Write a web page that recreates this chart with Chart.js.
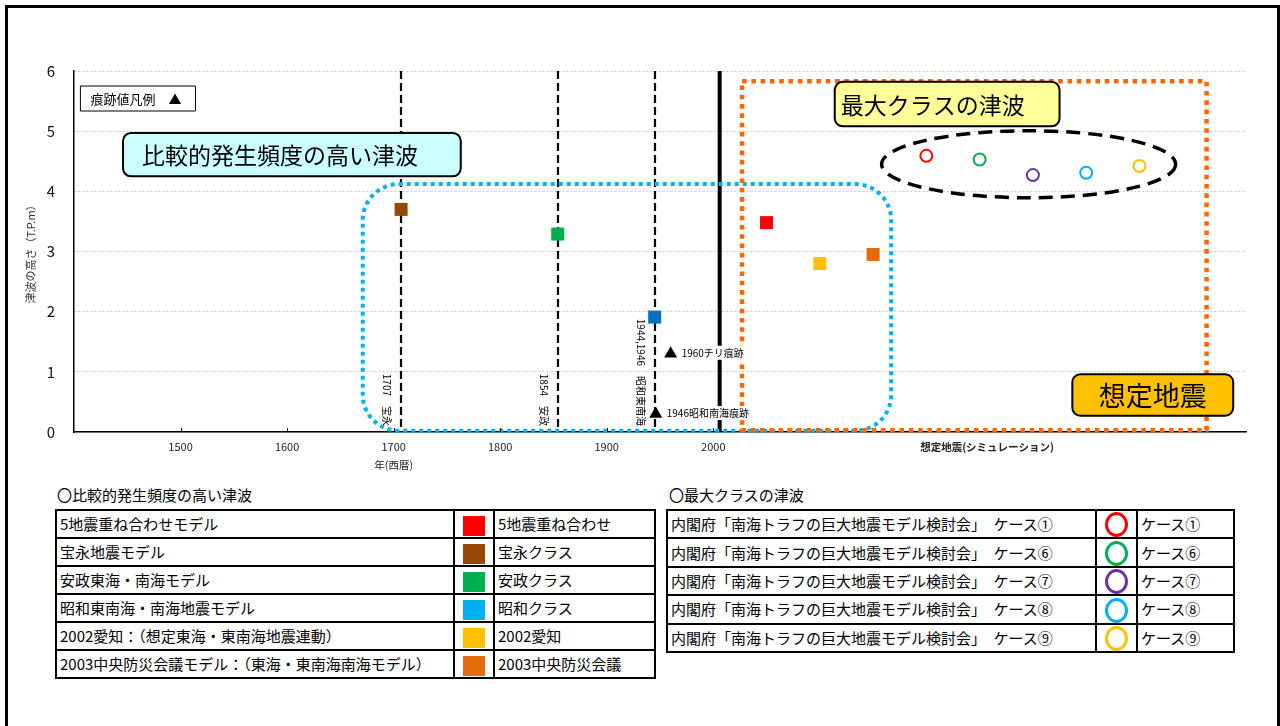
<!DOCTYPE html>
<html lang="ja">
<head>
<meta charset="utf-8">
<title>津波の高さ</title>
<script src="https://cdn.jsdelivr.net/npm/chart.js@4.4.0/dist/chart.umd.min.js"></script>
<style>
  body { margin:0; width:1280px; height:726px; overflow:hidden; background:#fff; position:relative;
         font-family:'Noto Sans CJK JP', 'Noto Sans', sans-serif; color:#000; }
  #frame { position:absolute; left:5px; top:5px; width:1269px; height:780px; border:3px solid #000; }
  #wrap { position:absolute; left:0; top:0; width:1280px; height:480px; }
  .cap { position:absolute; top:485px; font-size:15px; line-height:20px; }
  table { position:absolute; top:509px; border-collapse:collapse; table-layout:fixed; font-size:15px; }
  td { border:2px solid #000; height:26px; padding:0 0 0 3px; white-space:nowrap; overflow:hidden; line-height:24px; }
  td.sw { text-align:center; padding:0; }
  .sq { display:inline-block; width:22px; height:20px; vertical-align:middle; }
  .ring { display:inline-block; width:17px; height:19px; border:3px solid; border-radius:50%; vertical-align:middle; }
</style>
</head>
<body>
<div id="frame"></div>
<div id="wrap"><canvas id="chart" width="1280" height="480"></canvas></div>

<div class="cap" style="left:57px;">〇比較的発生頻度の高い津波</div>
<table id="tblFreq" style="left:55px; width:599px;">
  <colgroup><col style="width:398px"><col style="width:40px"><col style="width:161px"></colgroup>
  <tbody></tbody>
</table>

<div class="cap" style="left:669px;">〇最大クラスの津波</div>
<table id="tblMax" style="left:666px; width:567px;">
  <colgroup><col style="width:429px"><col style="width:41px"><col style="width:97px"></colgroup>
  <tbody></tbody>
</table>

<script>
// 比較的発生頻度の高い津波 (squares)
var freqModels = ['5地震重ね合わせモデル', '宝永地震モデル', '安政東海・南海モデル', '昭和東南海・南海地震モデル',
  '2002愛知：（想定東海・東南海地震連動）', '2003中央防災会議モデル：（東海・東南海南海モデル）'];
var freqNames = ['5地震重ね合わせ', '宝永クラス', '安政クラス', '昭和クラス', '2002愛知', '2003中央防災会議'];
var freqYears = [2050, 1707, 1854, 1945, 2100, 2150];
var freqHeights = [3.48, 3.70, 3.29, 1.91, 2.80, 2.95];
var freqColors = ['#FF0000', '#974706', '#00B050', '#0070C0', '#FFC000', '#E46C0A'];
var freqLegendColors = ['#FF0000', '#974706', '#00B050', '#00B0F0', '#FFC000', '#E46C0A'];

// 最大クラスの津波 (circles)
var maxModels = ['ケース①', 'ケース⑥', 'ケース⑦', 'ケース⑧', 'ケース⑨'];
var maxYears = [2200, 2250, 2300, 2350, 2400];
var maxHeights = [4.59, 4.53, 4.27, 4.31, 4.42];
var maxColors = ['#FF0000', '#00B050', '#7030A0', '#00B0F0', '#FFC000'];

// 痕跡値 (triangles)
var traceNames = ['1960チリ痕跡', '1946昭和南海痕跡'];
var traceYears = [1960, 1946];
var traceHeights = [1.3, 0.3];

// historical events
var eventYears = [1707, 1854, 1945];
var eventLabels = ['1707　宝永', '1854　安政', '1944,1946　昭和東南海'];
var presentYear = 2006;

var yearTicks = [1500, 1600, 1700, 1800, 1900, 2000];

// annotation boxes, in data units
var notes = [
  {text: '痕跡値凡例　▲', x0: 1406, x1: 1514, y0: 5.335, y1: 5.75, fill: '#FFFFFF', lw: 1, r: 0, size: 13, pad: 10, align: 'left'},
  {text: '比較的発生頻度の高い津波', x0: 1446, x1: 1763, y0: 4.25, y1: 4.97, fill: '#CCFFFF', lw: 2, r: 8, size: 23, pad: 19, align: 'left'},
  {text: '最大クラスの津波', x0: 2114, x1: 2325, y0: 5.08, y1: 5.82, fill: '#FFFF99', lw: 2, r: 8, size: 23, pad: 6, align: 'left'},
  {text: '想定地震', x0: 2337, x1: 2488, y0: 0.27, y1: 0.96, fill: '#FFC000', lw: 2, r: 8, size: 27, pad: 0, align: 'center'}
];

Chart.defaults.font.family = "'Noto Sans CJK JP', 'Noto Sans', sans-serif";
Chart.defaults.color = '#000';

function roundBox(ctx, x0, y0, x1, y1, r) {
  ctx.beginPath();
  ctx.moveTo(x0 + r, y0);
  ctx.arcTo(x1, y0, x1, y1, r);
  ctx.arcTo(x1, y1, x0, y1, r);
  ctx.arcTo(x0, y1, x0, y0, r);
  ctx.arcTo(x0, y0, x1, y0, r);
  ctx.closePath();
}

var overlay = {
  id: 'overlay',
  beforeDatasetsDraw: function(chart) {
    var ctx = chart.ctx, a = chart.chartArea, x = chart.scales.x, y = chart.scales.y;
    ctx.save();
    // event lines
    ctx.strokeStyle = '#000';
    ctx.lineWidth = 2.2;
    ctx.setLineDash([8, 4]);
    eventYears.forEach(function(v) {
      var px = Math.round(x.getPixelForValue(v));
      ctx.beginPath(); ctx.moveTo(px, a.top); ctx.lineTo(px, a.bottom); ctx.stroke();
    });
    // present
    ctx.setLineDash([]);
    ctx.lineWidth = 4;
    var pp = x.getPixelForValue(presentYear);
    ctx.beginPath(); ctx.moveTo(pp, a.top); ctx.lineTo(pp, a.bottom); ctx.stroke();

    // rotated event labels
    ctx.font = "10px 'Noto Sans CJK JP'";
    ctx.fillStyle = '#000';
    ctx.textAlign = 'right';
    ctx.textBaseline = 'middle';
    eventYears.forEach(function(v, i) {
      ctx.save();
      ctx.translate(x.getPixelForValue(v) - 14, a.bottom - 6);
      ctx.rotate(Math.PI / 2);
      ctx.fillText(eventLabels[i], 0, 0);
      ctx.restore();
    });

    // blue dotted group
    ctx.strokeStyle = '#00B0F0';
    ctx.lineWidth = 4;
    ctx.setLineDash([4, 4]);
    roundBox(ctx, x.getPixelForValue(1671), y.getPixelForValue(4.12), x.getPixelForValue(2167), y.getPixelForValue(0.02), 36);
    ctx.stroke();

    // orange dotted group
    ctx.strokeStyle = '#FF6600';
    ctx.lineWidth = 4.5;
    ctx.setLineDash([4.6, 4.7]);
    ctx.strokeRect(x.getPixelForValue(2027), y.getPixelForValue(5.83),
      x.getPixelForValue(2463) - x.getPixelForValue(2027), y.getPixelForValue(0.03) - y.getPixelForValue(5.83));

    // dashed ellipse around max class
    ctx.strokeStyle = '#000';
    ctx.lineWidth = 3.5;
    ctx.setLineDash([14, 8]);
    var cx = x.getPixelForValue(2296), cy = y.getPixelForValue(4.45);
    var rx = x.getPixelForValue(2296 + 138) - cx, ry = cy - y.getPixelForValue(4.45 + 0.557);
    ctx.beginPath(); ctx.ellipse(cx, cy, rx, ry, 0, 0, Math.PI * 2); ctx.stroke();
    ctx.restore();
  },
  afterDatasetsDraw: function(chart) {
    var ctx = chart.ctx, a = chart.chartArea, x = chart.scales.x, y = chart.scales.y;
    ctx.save();
    // inward ticks
    ctx.strokeStyle = '#000';
    ctx.lineWidth = 1;
    yearTicks.forEach(function(v) {
      var px = Math.round(x.getPixelForValue(v)) + 0.5;
      ctx.beginPath(); ctx.moveTo(px, a.bottom); ctx.lineTo(px, a.bottom - 4); ctx.stroke();
    });

    // trace labels on white
    ctx.font = "10px 'Noto Sans CJK JP'";
    ctx.textAlign = 'left';
    ctx.textBaseline = 'middle';
    traceNames.forEach(function(t, i) {
      var tx = x.getPixelForValue(traceYears[i]) + 11, ty = y.getPixelForValue(traceHeights[i]) - 1;
      var w = ctx.measureText(t).width;
      ctx.fillStyle = '#fff';
      ctx.fillRect(tx - 1, ty - 7, w + 2, 14);
      ctx.fillStyle = '#000';
      ctx.fillText(t, tx, ty);
    });

    // axis captions
    ctx.textAlign = 'center';
    ctx.fillStyle = '#222';
    ctx.font = "10.5px 'Noto Sans CJK JP'";
    ctx.fillText('年(西暦)', x.getPixelForValue(1700), a.bottom + 33);
    ctx.font = "bold 10.5px 'Noto Sans CJK JP'";
    ctx.fillText('想定地震(シミュレーション)', x.getPixelForValue(2257), a.bottom + 15);

    // annotation boxes
    notes.forEach(function(n) {
      var x0 = x.getPixelForValue(n.x0), x1 = x.getPixelForValue(n.x1);
      var y0 = y.getPixelForValue(n.y1), y1 = y.getPixelForValue(n.y0);
      ctx.setLineDash([]);
      ctx.lineWidth = n.lw;
      ctx.strokeStyle = '#000';
      ctx.fillStyle = n.fill;
      roundBox(ctx, x0, y0, x1, y1, n.r);
      ctx.fill();
      ctx.stroke();
      ctx.fillStyle = '#000';
      ctx.font = n.size + "px 'Noto Sans CJK JP'";
      ctx.textBaseline = 'middle';
      ctx.textAlign = n.align;
      var tx = n.align === 'center' ? (x0 + x1) / 2 : x0 + n.pad;
      ctx.fillText(n.text, tx, (y0 + y1) / 2 + 1);
    });
    ctx.restore();
  }
};

new Chart(document.getElementById('chart'), {
  type: 'scatter',
  data: {
    datasets: [{
      label: '痕跡値',
      data: traceYears.map(function(v, i) { return {x: v, y: traceHeights[i]}; }),
      pointStyle: 'triangle',
      pointRadius: 7.5,
      backgroundColor: '#000',
      borderWidth: 0
    }, {
      label: '比較的発生頻度の高い津波',
      data: freqYears.map(function(v, i) { return {x: v, y: freqHeights[i]}; }),
      pointStyle: 'rect',
      pointRadius: 9.2,
      backgroundColor: freqColors,
      borderWidth: 0
    }, {
      label: '最大クラスの津波',
      data: maxYears.map(function(v, i) { return {x: v, y: maxHeights[i]}; }),
      pointStyle: 'circle',
      pointRadius: 6,
      borderWidth: 2,
      borderColor: maxColors,
      backgroundColor: 'rgba(255,255,255,0)'
    }]
  },
  options: {
    responsive: false,
    animation: false,
    events: [],
    layout: {padding: {left: 0, top: 71, right: 34, bottom: 8}},
    plugins: {legend: {display: false}, tooltip: {enabled: false}},
    scales: {
      x: {
        type: 'linear', min: 1400, max: 2500,
        afterFit: function(s) { s.height = 40; },
        afterBuildTicks: function(s) { s.ticks = yearTicks.map(function(v) { return {value: v}; }); },
        grid: {display: false, drawTicks: false},
        border: {color: '#000', width: 1.5},
        ticks: {padding: 8, font: {size: 11}, color: '#222', callback: function(v) { return String(v); }}
      },
      y: {
        min: 0, max: 6,
        afterFit: function(s) { s.width = 74; },
        grid: {color: '#c8c8c8', lineWidth: 1, drawTicks: false},
        border: {color: '#000', width: 1.5, dash: [2, 2]},
        ticks: {stepSize: 1, padding: 19, font: {size: 15}, color: '#111'},
        title: {display: true, text: '津波の高さ（T.P.m）', font: {size: 11}, color: '#333', padding: {top: 24, bottom: 0}}
      }
    }
  },
  plugins: [overlay]
});

// legend tables
var fb = document.querySelector('#tblFreq tbody');
freqModels.forEach(function(m, i) {
  var tr = document.createElement('tr');
  tr.innerHTML = '<td>' + m + '</td><td class="sw"><span class="sq" style="background:' + freqLegendColors[i] +
    '"></span></td><td>' + freqNames[i] + '</td>';
  fb.appendChild(tr);
});
var mb = document.querySelector('#tblMax tbody');
maxModels.forEach(function(m, i) {
  var tr = document.createElement('tr');
  tr.innerHTML = '<td>内閣府「南海トラフの巨大地震モデル検討会」　' + m + '</td><td class="sw"><span class="ring" style="border-color:' +
    maxColors[i] + '"></span></td><td>' + m + '</td>';
  mb.appendChild(tr);
});
</script>
</body>
</html>
